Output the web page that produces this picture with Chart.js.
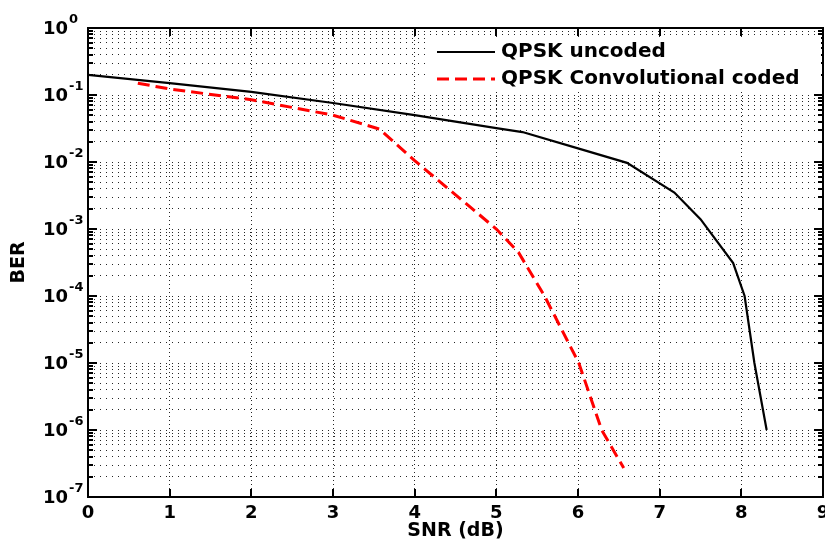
<!DOCTYPE html>
<html><head><meta charset="utf-8">
<script src="https://cdn.jsdelivr.net/npm/chart.js@4.4.1/dist/chart.umd.min.js"></script>
<style>html,body{margin:0;padding:0;background:#fff}#wrap{width:825px;height:548px}</style>
</head><body><div id="wrap"><canvas id="c" width="825" height="548"></canvas></div>
<script>
// ---- data ----
const uncodedSNR = [0, 1, 2, 3, 4, 5, 5.32, 6, 6.6, 7.18, 7.5, 7.9, 8.04, 8.16, 8.31];
const uncodedBER = [0.2, 0.15, 0.111, 0.076, 0.050, 0.032, 0.028, 0.016, 0.0097, 0.0035, 0.0014, 0.00031, 1e-4, 1e-5, 1e-6];
const codedSNR = [0.61, 1, 2, 3, 3.57, 4, 5, 5.27, 5.59, 6.01, 6.29, 6.56];
const codedBER = [0.15, 0.123, 0.085, 0.050, 0.031, 0.0105, 0.001, 4.5e-4, 1e-4, 1e-5, 1e-6, 2.7e-7];
const seriesLabels = ['QPSK uncoded', 'QPSK Convolutional coded'];
const xTickValues = [0, 1, 2, 3, 4, 5, 6, 7, 8, 9];
const yDecadeExponents = [-7, -6, -5, -4, -3, -2, -1, 0];
const yTickBase = '10';
const xTitle = 'SNR (dB)';
const yTitle = 'BER';

const FONT = "'DejaVu Sans', 'Liberation Sans', Arial, sans-serif";

function pairs(xs, ys) { return xs.map((x, i) => ({x: x, y: ys[i]})); }

// all tick values 1..9 x 10^k for the log axis
const yTickValues = [];
yDecadeExponents.forEach(e => {
  if (e === 0) { yTickValues.push(1); return; }
  for (let m = 1; m <= 9; m++) yTickValues.push(+(m * Math.pow(10, e)).toPrecision(3));
});
function isDecade(v) { const l = Math.log10(v); return Math.abs(l - Math.round(l)) < 1e-9; }

const framePlugin = {
  id: 'frame',
  afterDraw(chart) {
    const ctx = chart.ctx, a = chart.chartArea;
    const xs = chart.scales.x, ys = chart.scales.y;
    ctx.save();
    ctx.strokeStyle = '#000';
    ctx.lineWidth = 2;
    ctx.setLineDash([]);
    ctx.strokeRect(a.left, a.top, a.right - a.left, a.bottom - a.top);
    ctx.beginPath();
    xs.ticks.forEach(t => {
      const px = Math.round(xs.getPixelForValue(t.value));
      ctx.moveTo(px, a.bottom); ctx.lineTo(px, a.bottom - 8);
      ctx.moveTo(px, a.top); ctx.lineTo(px, a.top + 8);
    });
    ys.ticks.forEach(t => {
      const py = Math.round(ys.getPixelForValue(t.value));
      const len = isDecade(t.value) ? 9 : 5;
      ctx.moveTo(a.left, py); ctx.lineTo(a.left + len, py);
      ctx.moveTo(a.right, py); ctx.lineTo(a.right - len, py);
    });
    ctx.stroke();

    // y tick labels: 10 with raised exponent
    ctx.fillStyle = '#000';
    ys.ticks.forEach(t => {
      if (!isDecade(t.value)) return;
      const py = ys.getPixelForValue(t.value);
      const ex = Math.round(Math.log10(t.value));
      ctx.font = 'bold 18px ' + FONT;
      ctx.textAlign = 'right';
      ctx.textBaseline = 'middle';
      ctx.fillText(yTickBase, a.left - 20, py + 1);
      ctx.font = 'bold 13px ' + FONT;
      ctx.textAlign = 'left';
      ctx.textBaseline = 'alphabetic';
      ctx.fillText(String(ex), a.left - 19, py - 5);
    });

    // legend box inside the plot
    const bx = 425, by = 37, bw = a.right - 2 - bx, bh = 54;
    ctx.fillStyle = '#fff';
    ctx.fillRect(bx, by, bw, bh);
    chart.data.datasets.forEach((ds, i) => {
      const y = 52 + i * 27;
      ctx.strokeStyle = ds.borderColor;
      ctx.lineWidth = ds.borderWidth;
      ctx.setLineDash(ds.borderDash || []);
      ctx.beginPath();
      ctx.moveTo(437, y); ctx.lineTo(495, y);
      ctx.stroke();
      ctx.setLineDash([]);
      ctx.fillStyle = '#000';
      ctx.font = 'bold 20px ' + FONT;
      ctx.textBaseline = 'middle';
      ctx.textAlign = 'left';
      ctx.fillText(ds.label, 501, y);
    });
    ctx.restore();
  }
};

new Chart(document.getElementById('c'), {
  type: 'line',
  data: {
    datasets: [
      { label: seriesLabels[0], data: pairs(uncodedSNR, uncodedBER), borderColor: '#000', borderWidth: 2.2,
        pointRadius: 0, tension: 0, fill: false },
      { label: seriesLabels[1], data: pairs(codedSNR, codedBER), borderColor: '#ff0000', borderWidth: 3,
        borderDash: [12, 6], pointRadius: 0, tension: 0, fill: false }
    ]
  },
  options: {
    responsive: false,
    devicePixelRatio: 1,
    animation: false,
    layout: { padding: { top: 28, right: 2, left: 0, bottom: 0 } },
    plugins: { legend: { display: false }, tooltip: { enabled: false } },
    scales: {
      x: {
        type: 'linear', min: 0, max: 9,
        afterBuildTicks: s => { s.ticks = xTickValues.map(v => ({value: v})); },
        afterFit: s => { s.paddingRight = 0; s.paddingLeft = 0; s.height = 51; },
        ticks: { autoSkip: false, maxRotation: 0, padding: 6, color: '#000',
                 font: { family: FONT, size: 18, weight: 'bold' } },
        grid: { color: 'rgba(0,0,0,0.85)', lineWidth: 1, drawTicks: false },
        border: { display: false, dash: [1, 3] },
        title: { display: true, text: xTitle, color: '#000', padding: { top: 0, bottom: 6 },
                 font: { family: FONT, size: 19, weight: 'bold' } }
      },
      y: {
        type: 'logarithmic', min: 1e-7, max: 1,
        afterBuildTicks: s => { s.ticks = yTickValues.map(v => ({value: v, major: isDecade(v)})); },
        afterFit: s => { s.width = 88; s.paddingTop = 0; s.paddingBottom = 0; },
        ticks: { display: false, autoSkip: false },
        grid: { color: 'rgba(0,0,0,0.85)', lineWidth: 1, drawTicks: false },
        border: { display: false, dash: [1, 5] },
        title: { display: true, text: yTitle, color: '#000', padding: { top: 8, bottom: 0 },
                 font: { family: FONT, size: 19, weight: 'bold' } }
      }
    }
  },
  plugins: [framePlugin]
});
</script>
</body></html>
